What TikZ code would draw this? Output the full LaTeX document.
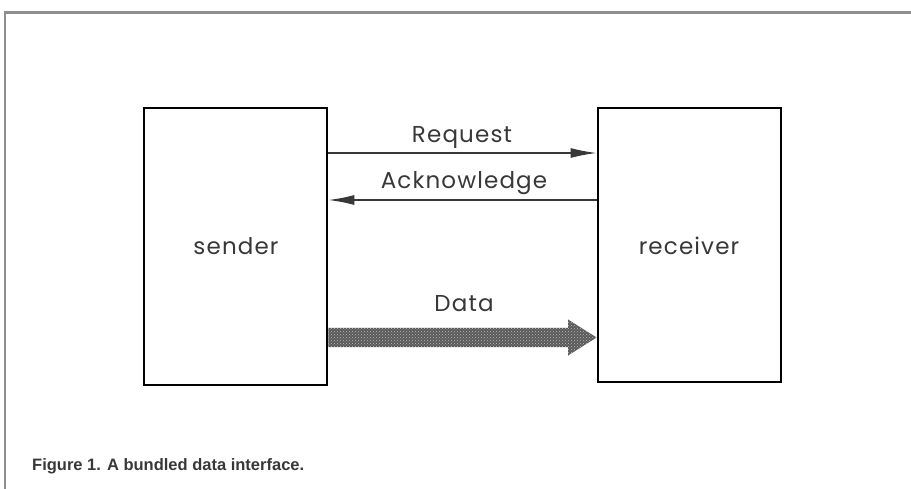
\documentclass[tikz,border=0pt]{standalone}
\usepackage{fontspec}
\setmainfont{Poppins}[LetterSpace=5]
\newfontfamily\capfont{Liberation Sans}
\usetikzlibrary{patterns,arrows.meta,calc}
\definecolor{frame}{HTML}{8F8F8F}
\definecolor{ink}{HTML}{383838}
\begin{document}
\begin{tikzpicture}[x=1pt,y=-1pt,
  blockbox/.style={draw=black,line width=2.8pt,inner sep=0pt},
  lbl/.style={font=\fontsize{23}{27}\selectfont,text=ink,inner sep=0pt,anchor=base},
  sig/.style={line width=1.4pt,draw=ink,-{Latex[length=26pt,width=10pt]}},
  framestroke/.style={draw=frame,line width=2.8pt}]
\useasboundingbox (0,0) rectangle (911,489);
\fill[white] (0,0) rectangle (911,489);
\draw[framestroke] (5,489) -- (5,12.5) -- (911,12.5);
\node[blockbox,minimum width=183pt,minimum height=277pt] (sender) at (235.5,246.5) {};
\node[blockbox,minimum width=183pt,minimum height=274pt] (receiver) at (689.5,245) {};
\node[lbl] (st) at (236,255) {sender};
\node[lbl] (rt) at (689,255) {receiver};
\coordinate (rq1) at (sender.east |- 0,153);
\coordinate (rq2) at (receiver.west |- 0,153);
\coordinate (ak1) at (receiver.west |- 0,200);
\coordinate (ak2) at (sender.east |- 0,200);
\draw[sig] (rq1) -- (rq2);
\draw[sig] (ak1) -- (ak2);
\node[lbl] (req) at (462,143) {Request};
\node[lbl] (ack) at (464,189) {Acknowledge};
\node[lbl] (data) at (464,312) {Data};
\coordinate (d0) at (sender.east |- 0,337.5);
\coordinate (d1) at (receiver.west |- 0,337.5);
\coordinate (hb) at (568,337.5);
\def\datashape{(d0) -- ($(d0)+(0,-9.5)$) -- ($(hb)+(0,-9.5)$) -- ($(hb)+(0,-18)$) -- (d1) -- ($(hb)+(0,18)$) -- ($(hb)+(0,9.5)$) -- ($(d0)+(0,9.5)$) -- cycle}
\fill[black!65] \datashape;
\path[pattern=crosshatch dots,pattern color=white!75!black] \datashape;
\node[font=\capfont\bfseries\fontsize{16.5}{19}\selectfont,text=ink,anchor=base west,inner sep=0pt] (cap) at (32,470) {Figure 1. A bundled data interface.};
\end{tikzpicture}
\end{document}
